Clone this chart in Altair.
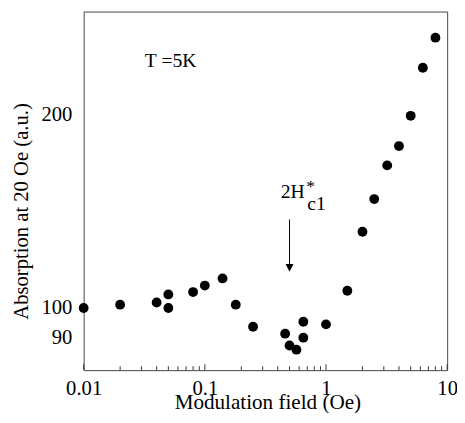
import altair as alt
import pandas as pd

# data
field = [0.01, 0.02, 0.04, 0.05, 0.05, 0.08, 0.1, 0.14, 0.18, 0.25, 0.46, 0.5,
         0.57, 0.65, 0.65, 1.0, 1.5, 2.0, 2.5, 3.2, 4.0, 5.0, 6.3, 8.0]
absorption = [100, 101.2, 102, 105, 100, 105.9, 108.4, 111.2, 101.2, 93.5, 91.2, 87.4,
              86.1, 95.2, 89.9, 94.3, 106.4, 131.5, 147.9, 166.9, 178.9, 199.4, 237, 264]

x_major = [0.01, 0.1, 1, 10]
x_minor = [m * d for d in [0.01, 0.1, 1] for m in range(2, 10)]
x_labels = [0.01, 0.1, 1, 10]
y_labels = [90, 100, 200]

FONT = "Liberation Serif"
W, H = 370, 365

xs = alt.Scale(type="log", domain=[0.01, 10], nice=False)
ys = alt.Scale(type="log", domain=[80, 290], nice=False)

df = pd.DataFrame({"x": field, "y": absorption})

points = alt.Chart(df).mark_point(filled=True, size=100, color="black", opacity=1).encode(
    x=alt.X("x:Q", scale=xs, title="Modulation field (Oe)",
            axis=alt.Axis(values=x_labels, ticks=False, domain=False, grid=False,
                          labelFont=FONT, labelFontSize=21, labelColor="black",
                          labelPadding=8, labelExpr="datum.value >= 1 ? format(datum.value, 'd') : format(datum.value, '')",
                          labelFlush=False, labelOverlap=False,
                          titleFont=FONT, titleFontSize=21.5, titleFontWeight="normal",
                          titleColor="black", titleX=187, titleY=33, titleAlign="center",
                          titleBaseline="middle")),
    y=alt.Y("y:Q", scale=ys, title="Absorption at 20 Oe (a.u.)",
            axis=alt.Axis(values=y_labels, ticks=False, domain=False, grid=False,
                          labelFont=FONT, labelFontSize=21, labelColor="black",
                          labelPadding=12, labelOverlap=False, labelFlush=False,
                          titleFont=FONT, titleFontSize=21, titleFontWeight="normal",
                          titleColor="black", titleX=-63, titleY=203, titleAlign="center",
                          titleBaseline="middle")),
)

major = alt.Chart(pd.DataFrame({"x": x_major})).mark_rule(color="#333", strokeWidth=1).encode(
    x=alt.X("x:Q", scale=xs), y=alt.value(H), y2=alt.value(H - 6))
minor = alt.Chart(pd.DataFrame({"x": x_minor})).mark_rule(color="#333", strokeWidth=1).encode(
    x=alt.X("x:Q", scale=xs), y=alt.value(H), y2=alt.value(H - 4))

temp = alt.Chart(pd.DataFrame({"x": [0.032], "y": [243], "t": ["T =5K"]})).mark_text(
    font=FONT, fontSize=20, align="left", baseline="middle", color="black").encode(
    x=alt.X("x:Q", scale=xs), y=alt.Y("y:Q", scale=ys), text="t:N")

lab_main = alt.Chart(pd.DataFrame({"x": [0.423], "y": [148.4], "t": ["2H"]})).mark_text(
    font=FONT, fontSize=20, align="left", baseline="alphabetic", color="black").encode(
    x=alt.X("x:Q", scale=xs), y=alt.Y("y:Q", scale=ys), text="t:N")
lab_sup = alt.Chart(pd.DataFrame({"x": [0.748], "y": [151.6], "t": ["*"]})).mark_text(
    font=FONT, fontSize=18, align="center", baseline="alphabetic", color="black").encode(
    x=alt.X("x:Q", scale=xs), y=alt.Y("y:Q", scale=ys), text="t:N")
lab_sub = alt.Chart(pd.DataFrame({"x": [0.70], "y": [142.3], "t": ["c1"]})).mark_text(
    font=FONT, fontSize=20, align="left", baseline="alphabetic", color="black").encode(
    x=alt.X("x:Q", scale=xs), y=alt.Y("y:Q", scale=ys), text="t:N")

arrow_line = alt.Chart(pd.DataFrame({"x": [0.5], "y": [137.4], "y2": [116.5]})).mark_rule(
    color="black", strokeWidth=1).encode(
    x=alt.X("x:Q", scale=xs), y=alt.Y("y:Q", scale=ys), y2="y2:Q")
arrow_head = alt.Chart(pd.DataFrame({"x": [0.5], "y": [115.5]})).mark_point(
    shape="M-1,-1L1,-1L0,1Z", size=64, filled=True, color="black", opacity=1).encode(
    x=alt.X("x:Q", scale=xs), y=alt.Y("y:Q", scale=ys))

chart = alt.layer(minor, major, points, temp, lab_main, lab_sup, lab_sub, arrow_line, arrow_head).properties(
    width=W, height=H,
    autosize=alt.AutoSizeParams(type="none"),
    padding={"left": 77, "top": 0, "right": 10, "bottom": 40},
    background="white",
).configure_view(stroke="#444", strokeWidth=1)

chart.save("out.html", embed_options={"renderer": "svg", "actions": False})
